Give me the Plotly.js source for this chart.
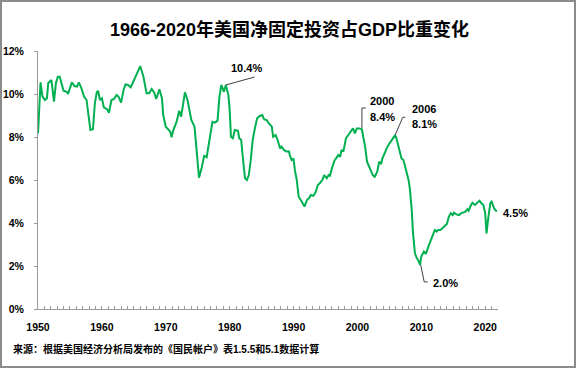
<!DOCTYPE html>
<html>
<head>
<meta charset="utf-8">
<script src="https://cdn.plot.ly/plotly-3.0.1.min.js"></script>
<style>html,body{margin:0;padding:0;background:#fff;}#chart{width:579px;height:369px;}</style>
</head>
<body>
<div id="chart"></div>
<script>
// Decimal year positions of the traced line
const years = [
1950.0,1950.4,1950.7,1951.1,1951.4,1951.6,1952.1,1952.5,1952.8,1953.1,1953.4,1954.0,1954.5,1954.7,1955.3,1955.7,1956.1,1956.4,1956.8,1957.2,1957.6,1957.9,1958.2,1958.6,1958.9,1959.2,1959.4,1959.7,1960.0,1960.3,1960.8,1961.1,1961.5,1961.9,1962.3,1962.6,1963.0,1963.4,1963.7,1964.1,1964.5,1964.8,1965.2,1965.5,1966.0,1966.5,1967.0,1967.4,1967.8,1968.2,1968.5,1969.0,1969.4,1969.6,1970.0,1970.4,1970.7,1970.9,1971.2,1971.7,1972.1,1972.4,1973.0,1973.4,1973.7,1974.0,1974.5,1974.8,1975.2,1975.6,1976.0,1976.4,1976.8,1977.3,1977.7,1978.1,1978.4,1978.7,1979.1,1979.4,1979.8,1980.0,1980.2,1980.5,1980.8,1981.3,1981.5,1981.8,1982.1,1982.4,1982.7,1983.0,1983.3,1983.6,1984.0,1984.3,1984.7,1985.1,1985.4,1985.8,1986.1,1986.6,1986.8,1987.2,1987.5,1987.9,1988.1,1988.5,1988.9,1989.3,1989.4,1989.7,1990.0,1990.2,1990.5,1990.8,1991.3,1991.7,1992.1,1992.4,1992.7,1993.1,1993.5,1993.8,1994.1,1994.5,1994.8,1995.2,1995.5,1995.7,1996.0,1996.4,1997.0,1997.3,1997.5,1997.8,1998.2,1998.6,1998.9,1999.3,1999.6,1999.9,2000.3,2000.7,2000.9,2001.2,2001.5,2002.0,2002.4,2002.7,2003.1,2003.4,2003.7,2003.9,2004.3,2004.7,2005.1,2005.5,2005.9,2006.1,2006.4,2006.7,2006.9,2007.2,2007.6,2008.0,2008.2,2008.5,2008.7,2009.0,2009.3,2009.5,2009.8,2010.0,2010.4,2010.7,2011.1,2011.4,2011.7,2012.1,2012.4,2012.6,2013.0,2013.4,2013.7,2014.0,2014.3,2014.6,2014.9,2015.1,2015.5,2015.9,2016.2,2016.6,2016.9,2017.2,2017.4,2017.7,2018.0,2018.4,2018.8,2019.1,2019.4,2019.7,2020.0,2020.2,2020.5,2020.8,2021.0,2021.4,2021.8
];
// Net fixed investment as % of GDP
const share = [
8.17,10.54,9.88,9.72,9.8,10.5,10.65,9.64,10.5,10.8,10.8,10.15,10.1,10.0,10.54,10.37,10.34,10.54,10.26,9.88,9.72,9.1,8.33,8.36,9.57,10.08,10.15,9.72,9.8,9.38,9.29,9.13,9.72,9.77,9.95,9.88,9.6,10.19,10.45,10.42,10.31,10.5,10.73,10.96,11.3,10.8,10.03,10.03,10.23,10.06,9.77,10.22,9.8,9.02,8.48,8.33,8.25,7.99,8.33,8.71,9.22,8.94,10.08,9.72,9.18,8.79,8.48,7.4,6.11,6.54,7.12,7.06,7.86,8.71,8.67,8.76,9.88,10.42,10.1,10.42,9.95,9.26,8.01,7.94,8.33,8.29,7.94,7.86,6.93,6.08,6.0,6.23,6.93,7.86,8.48,8.87,8.98,9.02,8.82,8.79,8.64,8.48,8.01,8.09,7.86,7.47,7.55,7.4,7.32,7.32,7.16,6.93,7.0,6.47,6.0,5.22,4.99,4.76,5.07,5.15,5.3,5.26,5.46,5.77,5.85,6.0,6.23,6.08,6.23,6.2,6.54,6.9,7.16,7.08,7.4,7.32,7.94,8.09,8.2,8.4,8.17,8.4,8.4,8.36,8.01,7.55,6.85,6.47,6.23,6.15,6.39,6.85,6.74,7.0,7.32,7.55,7.74,7.94,8.09,7.94,7.55,7.24,7.0,6.93,6.47,6.0,5.6,4.6,3.52,2.59,2.36,2.28,2.05,2.45,2.67,2.56,2.9,3.13,3.36,3.67,3.6,3.67,3.67,3.78,3.9,3.95,4.29,4.45,4.37,4.48,4.4,4.37,4.45,4.48,4.53,4.64,4.57,4.79,4.94,4.84,4.94,5.04,4.92,4.84,4.45,3.52,4.29,4.92,4.99,4.68,4.53
];
const xTickVals = [1950,1960,1970,1980,1990,2000,2010,2020];
const xTickText = ['1950','1960','1970','1980','1990','2000','2010','2020'];
const yTickVals = [0,2,4,6,8,10,12];
const yTickText = ['0%','2%','4%','6%','8%','10%','12%'];
const titleText = '1966-2020年美国净固定投资占GDP比重变化';
const sourceText = '来源：根据美国经济分析局发布的《国民帐户》表1.5.5和5.1数据计算';

const FONT = "'Liberation Sans', 'Noto Sans CJK SC', sans-serif";
const L = 38, T = 51, W = 460, H = 258;
const px2px = x => (x - L) / W;          // pixel -> paper x
const py2py = y => (T + H - y) / H;      // pixel -> paper y

const trace = {
  x: years, y: share, type: 'scatter', mode: 'lines',
  line: {color: '#00B050', width: 2}, hoverinfo: 'skip'
};

const lbl = {size: 11, color: '#000', family: FONT, weight: 'bold'};
const annotations = [
  {x: 1982.7, y: 11.21, xref: 'x', yref: 'y', text: '<b>10.4%</b>', showarrow: false, xanchor: 'center', yanchor: 'middle', font: lbl},
  {x: 2001.6, y: 9.67, xref: 'x', yref: 'y', text: '<b>2000</b>', showarrow: false, xanchor: 'left', yanchor: 'middle', font: lbl},
  {x: 2001.6, y: 8.93, xref: 'x', yref: 'y', text: '<b>8.4%</b>', showarrow: false, xanchor: 'left', yanchor: 'middle', font: lbl},
  {x: 2008.2, y: 9.30, xref: 'x', yref: 'y', text: '<b>2006</b>', showarrow: false, xanchor: 'left', yanchor: 'middle', font: lbl},
  {x: 2008.2, y: 8.60, xref: 'x', yref: 'y', text: '<b>8.1%</b>', showarrow: false, xanchor: 'left', yanchor: 'middle', font: lbl},
  {x: 2011.5, y: 1.21, xref: 'x', yref: 'y', text: '<b>2.0%</b>', showarrow: false, xanchor: 'left', yanchor: 'middle', font: lbl},
  {x: years[years.length-1], y: share[share.length-1], xref: 'x', yref: 'y', text: '<b>4.5%</b>', showarrow: true,
   arrowcolor: 'rgba(0,0,0,0)', ax: 19, ay: 1, xanchor: 'center', yanchor: 'middle', font: lbl},
  {x: px2px(11), y: py2py(349), xref: 'paper', yref: 'paper', text: '<b>' + sourceText + '</b>', showarrow: false,
   xanchor: 'left', yanchor: 'middle', font: {size: 10, color: '#000', family: FONT}}
];

const leader = {color: '#404040', width: 1};
const shapes = [
  {type: 'path', xref: 'x', yref: 'y', path: 'M1979.4,10.42 L1983.9,10.79', line: leader},
  {type: 'path', xref: 'x', yref: 'y', path: 'M2000.7,8.42 L2000.7,9.35 L2001.3,9.35', line: leader},
  {type: 'path', xref: 'x', yref: 'y', path: 'M2005.9,8.09 L2007.1,8.92 L2007.5,8.92', line: leader},
  {type: 'path', xref: 'x', yref: 'y', path: 'M2009.9,2.05 L2010.45,1.26 L2011.0,1.26', line: leader},
  {type: 'rect', xref: 'paper', yref: 'paper', x0: px2px(1), x1: px2px(575), y0: py2py(367), y1: py2py(1),
   line: {color: '#8c8c8c', width: 2}, fillcolor: 'rgba(0,0,0,0)'}
];

const tickFont = {size: 10.5, color: '#000', family: FONT, weight: 'bold'};
const layout = {
  width: 579, height: 369,
  margin: {l: L, r: 579 - L - W, t: T, b: 369 - T - H, pad: 0},
  paper_bgcolor: '#fff', plot_bgcolor: '#fff',
  showlegend: false,
  title: {text: '<b>' + titleText + '</b>', x: 0.5, xref: 'container', xanchor: 'center',
          y: 1 - 30 / 369, yref: 'container', yanchor: 'middle',
          font: {size: 18, color: '#000', family: FONT}},
  xaxis: {
    range: [1950, 2022], showgrid: false, zeroline: false,
    showline: true, linecolor: '#9a9a9a', linewidth: 1,
    tickvals: xTickVals, ticktext: xTickText,
    ticks: 'inside', ticklen: 3, tickcolor: '#9a9a9a', tickwidth: 1,
    minor: {dtick: 1, tick0: 1950, ticks: 'inside', ticklen: 3, tickcolor: '#9a9a9a', tickwidth: 1, showgrid: false},
    ticklabelstandoff: 8,
    tickfont: tickFont, fixedrange: true
  },
  yaxis: {
    range: [0, 12], showgrid: false, zeroline: false,
    showline: true, linecolor: '#9a9a9a', linewidth: 1,
    tickvals: yTickVals, ticktext: yTickText,
    ticks: 'outside', ticklen: 3, tickcolor: '#9a9a9a', tickwidth: 1,
    ticklabelstandoff: 8,
    tickfont: tickFont, fixedrange: true
  },
  annotations: annotations,
  shapes: shapes
};

Plotly.newPlot('chart', [trace], layout, {staticPlot: true, displayModeBar: false});
</script>
</body>
</html>
